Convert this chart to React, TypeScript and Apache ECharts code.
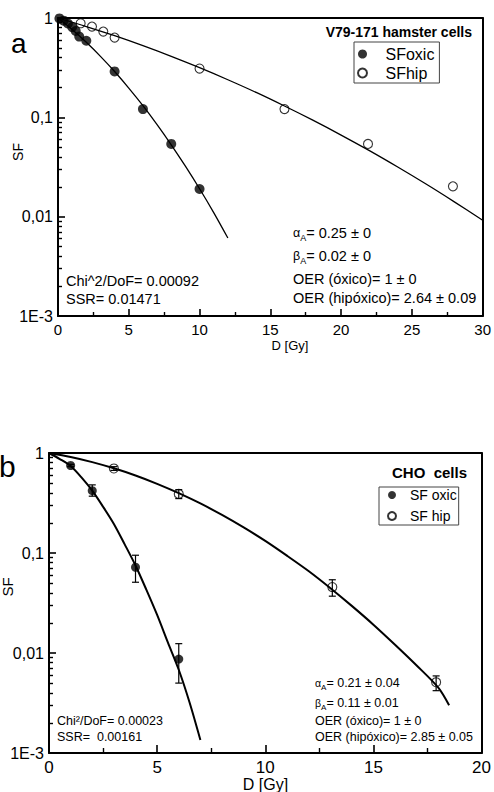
import React, { useEffect, useRef } from "react";
import * as echarts from "echarts";

// ---------- Panel a: V79-171 hamster cells ----------
const aOxicDose = [0.1, 0.4, 0.7, 1.0, 1.25, 1.5, 2, 4, 6, 8, 10];
const aOxicSF = [0.99, 0.94, 0.88, 0.81, 0.74, 0.65, 0.59, 0.29, 0.121, 0.054, 0.019];
const aHypDose = [1.6, 2.4, 3.2, 4, 10, 16, 21.9, 27.9];
const aHypSF = [0.885, 0.82, 0.73, 0.635, 0.31, 0.121, 0.054, 0.0202];
const aOxicFitDose = [0, 1, 2, 3, 4, 5, 6, 7, 8, 9, 10, 11, 12];
const aOxicFitSF = [1, 0.766, 0.569, 0.411, 0.289, 0.197, 0.131, 0.0844, 0.0529, 0.0322, 0.0191, 0.011, 0.0061];
const aHypFitDose = [0, 2, 4, 6, 8, 10, 12, 14, 16, 18, 20, 22, 24, 26, 28, 30];
const aHypFitSF = [1, 0.821, 0.663, 0.526, 0.411, 0.316, 0.239, 0.178, 0.13, 0.0936, 0.0663, 0.0462, 0.0316, 0.0213, 0.0141, 0.0092];

// ---------- Panel b: CHO cells ----------
const bOxicDose = [1, 2, 4, 6];
const bOxicSF = [0.75, 0.42, 0.072, 0.0087];
const bOxicLow = [0.73, 0.37, 0.051, 0.005];
const bOxicHigh = [0.77, 0.48, 0.095, 0.0124];
const bHypDose = [3, 6, 13.1, 17.9];
const bHypSF = [0.7, 0.39, 0.0457, 0.0051];
const bHypLow = [0.67, 0.35, 0.037, 0.0042];
const bHypHigh = [0.73, 0.43, 0.054, 0.0059];
const bOxicFitDose = [0, 0.5, 1, 1.5, 2, 2.5, 3, 3.5, 4, 4.5, 5, 5.5, 6, 6.5, 7];
const bOxicFitSF = [1, 0.87, 0.74, 0.57, 0.42, 0.29, 0.195, 0.122, 0.075, 0.043, 0.024, 0.0127, 0.0068, 0.0032, 0.00135];
const bHypFitDose = [0, 1, 2, 3, 4, 5, 6, 7, 8, 9, 10, 11, 12, 13, 14, 15, 16, 17, 18, 18.5];
const bHypFitSF = [1, 0.912, 0.811, 0.703, 0.596, 0.492, 0.397, 0.313, 0.24, 0.18, 0.132, 0.094, 0.066, 0.0447, 0.0296, 0.0192, 0.0121, 0.0075, 0.0045, 0.003];

// ---------- tick values ----------
const logMajorTicks = [0.001, 0.01, 0.1, 1];
const logMinorTicks = [
  0.002, 0.003, 0.004, 0.005, 0.006, 0.007, 0.008, 0.009,
  0.02, 0.03, 0.04, 0.05, 0.06, 0.07, 0.08, 0.09,
  0.2, 0.3, 0.4, 0.5, 0.6, 0.7, 0.8, 0.9,
];
const logTickLabels = ["1E-3", "0,01", "0,1", "1"];

const FONT = '"Liberation Sans", Arial, Helvetica, sans-serif';
const BLACK = "#000";

const pairs = (xs: number[], ys: number[]) => xs.map((x, i) => [x, ys[i]]);
const triples = (xs: number[], lo: number[], hi: number[]) => xs.map((x, i) => [x, lo[i], hi[i]]);

const logLabel = (v: number) => {
  const e = Math.round(Math.log10(v));
  return logTickLabels[e + 3];
};

function xAxisDefs(gridIndex: number, max: number, fontSize: number, margin: number, tickLen: number) {
  return [
    {
      gridIndex,
      type: "value",
      position: "bottom",
      min: 0,
      max,
      interval: 5,
      axisLine: { show: true, onZero: false, lineStyle: { color: BLACK, width: 2 } },
      axisTick: { show: true, inside: true, length: tickLen, lineStyle: { color: BLACK, width: 1.6 } },
      minorTick: { show: true, splitNumber: 2, length: tickLen - 3, lineStyle: { color: BLACK, width: 1.4 } },
      splitLine: { show: false },
      minorSplitLine: { show: false },
      axisLabel: { color: BLACK, fontSize, fontFamily: FONT, margin },
    },
    {
      gridIndex,
      type: "value",
      position: "top",
      min: 0,
      max,
      axisLine: { show: true, onZero: false, lineStyle: { color: BLACK, width: 2 } },
      axisTick: { show: false },
      axisLabel: { show: false },
      splitLine: { show: false },
    },
  ];
}

function yAxisDefs(gridIndex: number, fontSize: number) {
  return [
    {
      gridIndex,
      type: "log",
      logBase: 10,
      position: "left",
      min: 0.001,
      max: 1,
      axisLine: { show: true, onZero: false, lineStyle: { color: BLACK, width: 2 } },
      axisTick: { show: true, inside: true, length: 7, customValues: logMajorTicks, lineStyle: { color: BLACK, width: 1.6 } },
      axisLabel: { color: BLACK, fontSize, fontFamily: FONT, margin: 5, customValues: logMajorTicks, formatter: logLabel },
      splitLine: { show: false },
    },
    {
      gridIndex,
      type: "log",
      logBase: 10,
      position: "left",
      min: 0.001,
      max: 1,
      axisLine: { show: false },
      axisTick: { show: true, inside: true, length: 4, customValues: logMinorTicks, lineStyle: { color: BLACK, width: 1.4 } },
      axisLabel: { show: false },
      splitLine: { show: false },
    },
    {
      gridIndex,
      type: "log",
      logBase: 10,
      position: "right",
      min: 0.001,
      max: 1,
      axisLine: { show: true, onZero: false, lineStyle: { color: BLACK, width: 2 } },
      axisTick: { show: false },
      axisLabel: { show: false },
      splitLine: { show: false },
    },
  ];
}

function errorBarSeries(xAxisIndex: number, yAxisIndex: number, data: number[][], name: string) {
  return {
    type: "custom",
    name,
    xAxisIndex,
    yAxisIndex,
    data,
    encode: { x: 0, y: [1, 2] },
    silent: true,
    z: 3,
    renderItem: (params: any, api: any) => {
      const x = api.value(0);
      const lo = api.coord([x, api.value(1)]);
      const hi = api.coord([x, api.value(2)]);
      const w = 3.5;
      const st = { stroke: BLACK, lineWidth: 1.2 };
      return {
        type: "group",
        children: [
          { type: "line", shape: { x1: lo[0], y1: lo[1], x2: hi[0], y2: hi[1] }, style: st },
          { type: "line", shape: { x1: hi[0] - w, y1: hi[1], x2: hi[0] + w, y2: hi[1] }, style: st },
          { type: "line", shape: { x1: lo[0] - w, y1: lo[1], x2: lo[0] + w, y2: lo[1] }, style: st },
        ],
      };
    },
  };
}

function txt(x: number, y: number, text: string, fontSize: number, opts: any = {}) {
  return {
    type: "text",
    x,
    y,
    rotation: opts.rotation || 0,
    silent: true,
    style: {
      text,
      x: 0,
      y: 0,
      fill: BLACK,
      font: `${opts.bold ? "bold " : ""}${fontSize}px ${FONT}`,
      textAlign: opts.align || "left",
      textVerticalAlign: "middle",
      rich: opts.rich,
    },
  };
}

function subRich(fontSize: number, subSize: number, pad: number) {
  return {
    g: { fontSize: fontSize - 2, fontFamily: FONT, color: BLACK },
    s: { fontSize: subSize, fontFamily: FONT, color: BLACK, padding: [pad, 0, 0, 0] },
    t: { fontSize, fontFamily: FONT, color: BLACK },
  };
}

export default function App() {
  const ref = useRef<HTMLDivElement>(null);

  useEffect(() => {
    if (!ref.current) return;
    const chart = echarts.init(ref.current, undefined, { renderer: "svg" });

    // axis indices: x: [0]=a bottom, [1]=a top frame, [2]=b bottom, [3]=b top frame
    // y: [0]=a main, [1]=a minor ticks, [2]=a right frame, [3]=b main, [4]=b minor ticks, [5]=b right frame
    const option: any = {
      animation: false,
      backgroundColor: "#fff",
      grid: [
        { left: 58, top: 18, width: 426, height: 298, show: false },
        { left: 49, top: 453, width: 433, height: 300, show: false },
      ],
      xAxis: [...xAxisDefs(0, 30, 15, 6, 7), ...xAxisDefs(1, 20, 17, 6, 8)],
      yAxis: [...yAxisDefs(0, 16), ...yAxisDefs(1, 16)],
      legend: [
        {
          data: ["SFoxic", "SFhip"],
          orient: "vertical",
          left: 354,
          top: 42,
          padding: [4, 5, 2, 3],
          itemGap: 3,
          itemWidth: 36,
          itemHeight: 9,
          borderColor: "#444",
          borderWidth: 1,
          selectedMode: false,
          icon: "circle",
          textStyle: { color: BLACK, fontSize: 16, fontFamily: FONT, lineHeight: 16 },
        },
        {
          data: ["SF oxic", "SF hip"],
          orient: "vertical",
          left: 379,
          top: 487,
          padding: [1, 2, 2, 8],
          itemGap: 7,
          itemWidth: 26,
          itemHeight: 8,
          borderColor: "#444",
          borderWidth: 1,
          selectedMode: false,
          icon: "circle",
          textStyle: { color: BLACK, fontSize: 14, fontFamily: FONT, lineHeight: 12 },
        },
      ],
      series: [
        {
          name: "fit oxic a", type: "line", xAxisIndex: 0, yAxisIndex: 0, data: pairs(aOxicFitDose, aOxicFitSF),
          showSymbol: false, smooth: 0.3, lineStyle: { color: BLACK, width: 1.3 }, silent: true, z: 2,
        },
        {
          name: "fit hip a", type: "line", xAxisIndex: 0, yAxisIndex: 0, data: pairs(aHypFitDose, aHypFitSF),
          showSymbol: false, smooth: 0.3, lineStyle: { color: BLACK, width: 1.3 }, silent: true, z: 2,
        },
        {
          name: "SFoxic", type: "scatter", xAxisIndex: 0, yAxisIndex: 0, data: pairs(aOxicDose, aOxicSF),
          symbol: "circle", symbolSize: 10, itemStyle: { color: BLACK }, z: 4,
        },
        {
          name: "SFhip", type: "scatter", xAxisIndex: 0, yAxisIndex: 0, data: pairs(aHypDose, aHypSF),
          symbol: "circle", symbolSize: 9, itemStyle: { color: "rgba(255,255,255,0)", borderColor: BLACK, borderWidth: 1.1 }, z: 4,
        },
        {
          name: "fit oxic b", type: "line", xAxisIndex: 2, yAxisIndex: 3, data: pairs(bOxicFitDose, bOxicFitSF),
          showSymbol: false, smooth: 0.3, lineStyle: { color: BLACK, width: 2 }, silent: true, z: 2,
        },
        {
          name: "fit hip b", type: "line", xAxisIndex: 2, yAxisIndex: 3, data: pairs(bHypFitDose, bHypFitSF),
          showSymbol: false, smooth: 0.3, lineStyle: { color: BLACK, width: 2 }, silent: true, z: 2,
        },
        errorBarSeries(2, 3, triples(bOxicDose, bOxicLow, bOxicHigh), "err oxic b"),
        errorBarSeries(2, 3, triples(bHypDose, bHypLow, bHypHigh), "err hip b"),
        {
          name: "SF oxic", type: "scatter", xAxisIndex: 2, yAxisIndex: 3, data: pairs(bOxicDose, bOxicSF),
          symbol: "circle", symbolSize: 9, itemStyle: { color: BLACK }, z: 4,
        },
        {
          name: "SF hip", type: "scatter", xAxisIndex: 2, yAxisIndex: 3, data: pairs(bHypDose, bHypSF),
          symbol: "circle", symbolSize: 9, itemStyle: { color: "rgba(255,255,255,0)", borderColor: BLACK, borderWidth: 1.1 }, z: 4,
        },
      ],
      graphic: [
        txt(11, 43, "a", 28),
        txt(-1, 466, "b", 30),
        txt(17.5, 152, "SF", 14, { rotation: Math.PI / 2, align: "center" }),
        txt(290, 345, "D [Gy]", 13, { align: "center" }),
        txt(7.5, 587, "SF", 15, { rotation: Math.PI / 2, align: "center" }),
        txt(265.5, 784, "D [Gy]", 16, { align: "center" }),
        txt(472, 32, "V79-171 hamster cells", 14, { bold: true, align: "right" }),
        txt(467, 472, "CHO  cells", 15, { bold: true, align: "right" }),
        txt(293, 233, "{g|α}{s|A}{t|= 0.25 ± 0}", 14.5, { rich: subRich(14.5, 9, 10) }),
        txt(293, 256, "{g|β}{s|A}{t|= 0.02 ± 0}", 14.5, { rich: subRich(14.5, 9, 10) }),
        txt(293, 279, "OER (óxico)= 1 ± 0", 14.5),
        txt(293, 297.5, "OER (hipóxico)= 2.64 ± 0.09", 14.5),
        txt(66, 281, "Chi^2/DoF= 0.00092", 14.5),
        txt(66, 299, "SSR= 0.01471", 14.5),
        txt(315, 683, "{g|α}{s|A}{t|= 0.21 ± 0.04}", 12.5, { rich: subRich(12.5, 8, 9) }),
        txt(315, 703, "{g|β}{s|A}{t|= 0.11 ± 0.01}", 12.5, { rich: subRich(12.5, 8, 9) }),
        txt(315, 721, "OER (óxico)= 1 ± 0", 12.5),
        txt(315, 737, "OER (hipóxico)= 2.85 ± 0.05", 12.5),
        txt(57, 721, "Chi²/DoF= 0.00023", 12.5),
        txt(57, 737, "SSR=  0.00161", 12.5),
      ],
    };

    chart.setOption(option);
    return () => chart.dispose();
  }, []);

  return (
    <div
      ref={ref}
      style={{ position: "fixed", left: 0, top: 0, width: 494, height: 792, background: "#fff" }}
    />
  );
}
